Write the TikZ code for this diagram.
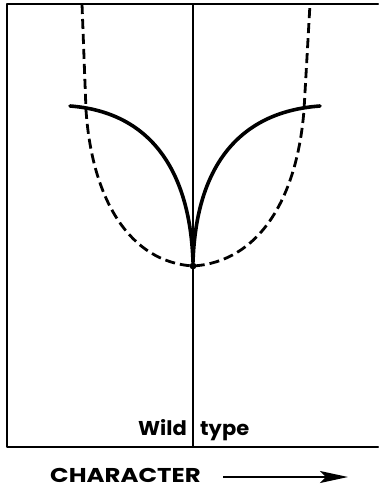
\documentclass[tikz,border=0pt]{standalone}
\usepackage{fontspec}
\setsansfont{Poppins}
\usetikzlibrary{arrows.meta,positioning}
\tikzset{
  frameln/.style={line width=2.2pt, line cap=round, line join=round},
  midln/.style={line width=1.8pt},
  solidcurve/.style={line width=3.6pt, line cap=round},
  dashcurve/.style={dash pattern=on 10pt off 5pt, line width=2.8pt},
  lbl/.style={font=\sffamily\bfseries\fontsize{20}{20}\selectfont, inner sep=0pt},
  charrow/.style={-{Stealth[length=28pt,width=12pt,inset=6pt]}, line width=1.8pt},
}
\newcommand{\dotpt}[1]{\fill #1 circle (3.4pt);}
\begin{document}
\begin{tikzpicture}[x=1pt,y=-1pt]
  \useasboundingbox (0,0) rectangle (378,489);
  % frame (open on the right)
  \draw[frameln] (378,4) -- (7,4) -- (7,447) -- (378,447);
  % wild type line
  \coordinate (wtop) at (193,4);
  \coordinate (wbot) at (193,447);
  \draw[midln] (wtop) -- (wbot);
  % dashed curve
  \coordinate (low) at (193,266);
  \draw[dashcurve] (82,4) -- (86,110)
    .. controls (92,200) and (130,262) .. (low)
    .. controls (258,262) and (297,200) .. (304,110) -- (310,4);
  % solid curve with cusp
  \draw[solidcurve] (70,106) .. controls (150,112) and (190,170) .. (193,262);
  \draw[solidcurve] (320,106) .. controls (236,112) and (196,170) .. (193,262);
  \dotpt{(low)}
  % labels
  \node[lbl, xscale=1.05, anchor=base east] (wild) at (187,435) {Wild};
  \node[lbl, xscale=1.05, anchor=base west] (type) at (200,435) {type};
  \node[lbl, xscale=1.22, anchor=base west] (char) at (50,482) {CHARACTER};
  \coordinate (arrs) at (223,477);
  \coordinate (arre) at (348,477);
  \draw[charrow] (arrs) -- (arre);
\end{tikzpicture}
\end{document}
